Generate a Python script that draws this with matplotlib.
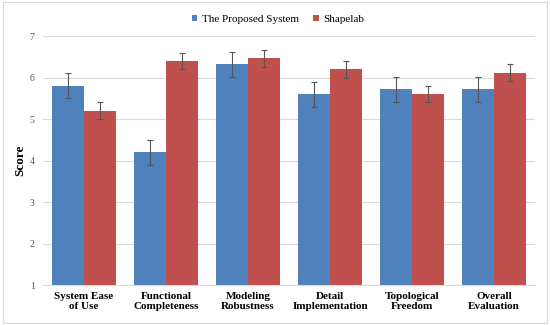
import matplotlib
matplotlib.use("Agg")
import matplotlib.pyplot as plt
import numpy as np

categories = ["System Ease\nof Use", "Functional\nCompleteness", "Modeling\nRobustness",
              "Detail\nImplementation", "Topological\nFreedom", "Overall\nEvaluation"]
proposed = [5.8, 4.2, 6.32, 5.6, 5.72, 5.72]
proposed_err = [0.3, 0.3, 0.3, 0.3, 0.3, 0.3]
shapelab = [5.2, 6.4, 6.46, 6.2, 5.6, 6.12]
shapelab_err = [0.2, 0.2, 0.2, 0.2, 0.2, 0.2]
series_names = ["The Proposed System", "Shapelab"]
yticks = [1, 2, 3, 4, 5, 6, 7]

plt.rcParams['font.family'] = ['Liberation Serif', 'DejaVu Serif']

fig = plt.figure(figsize=(5.5, 3.25), dpi=100)
ax = fig.add_axes([0.078, 0.123, 0.895, 0.766])

x = np.arange(len(categories))
w = 0.39
ekw = dict(ecolor='#555555', elinewidth=0.8, capsize=2, capthick=0.8)
ax.bar(x - w/2, [v - 1 for v in proposed], w, bottom=1, color='#4F81BD',
       yerr=proposed_err, error_kw=ekw, label=series_names[0], zorder=2)
ax.bar(x + w/2, [v - 1 for v in shapelab], w, bottom=1, color='#C0504D',
       yerr=shapelab_err, error_kw=ekw, label=series_names[1], zorder=2)

ax.set_xlim(-0.5, len(categories) - 0.5)
ax.set_ylim(1, 7)
ax.set_yticks(yticks)
ax.set_xticks(x)
ax.set_xticklabels(categories, fontweight='bold', fontsize=8, linespacing=1.15)
ax.tick_params(axis='y', labelsize=7, colors='#595959', length=0, pad=6)
ax.tick_params(axis='x', length=0, pad=5)
ax.yaxis.grid(True, color='#D9D9D9', linewidth=0.8, zorder=0)
ax.set_axisbelow(True)
for s in ['top', 'right', 'left']:
    ax.spines[s].set_visible(False)
ax.spines['bottom'].set_color('#D9D9D9')
ax.set_ylabel("Score", fontweight='bold', fontsize=9.5, labelpad=2)

fig.legend(loc='upper center', bbox_to_anchor=(0.505, 0.985), ncol=2, frameon=False,
           fontsize=8, handlelength=0.5, handleheight=0.5, handletextpad=0.4,
           columnspacing=1.3)

border = plt.Rectangle((0.005, 0.005), 0.99, 0.99, transform=fig.transFigure,
                       fill=False, edgecolor='#D9D9D9', linewidth=0.8)
fig.patches.append(border)

fig.savefig("out.png", dpi=100)
